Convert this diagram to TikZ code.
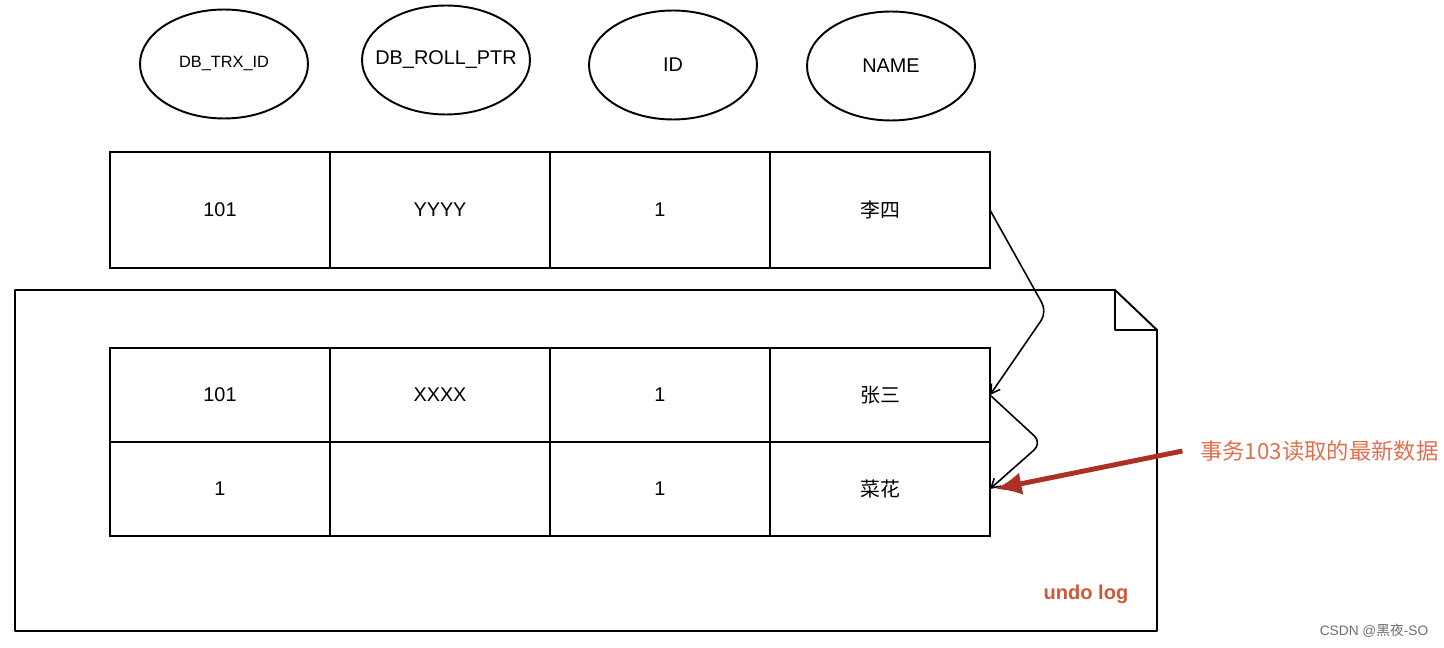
\documentclass[tikz,border=0pt]{standalone}
\usepackage{fontspec}
\setmainfont{Liberation Sans}
\newfontfamily\cjk{Noto Sans CJK SC}
\usetikzlibrary{shapes.geometric,arrows.meta}
\definecolor{redarrow}{RGB}{172,48,38}
\definecolor{notec}{RGB}{222,112,80}
\definecolor{undoc}{RGB}{205,88,58}
\definecolor{wm}{RGB}{110,110,110}
\tikzset{
  field/.style={ellipse,draw,line width=1.1pt,minimum width=3.36cm,minimum height=2.18cm,inner sep=0pt},
  fieldtext/.style={inner sep=0pt,font=\fontsize{11.3}{13}\selectfont},
  cell/.style={rectangle,draw,line width=1.1pt,minimum width=4.4cm,inner sep=0pt,outer sep=0pt,font=\fontsize{11.3}{13}\selectfont},
  toprow/.style={cell,minimum height=2.32cm},
  botrow/.style={cell,minimum height=1.88cm},
  link/.style={line width=0.9pt,rounded corners=6pt,-{Straight Barb[length=5pt,width=6pt]}},
}
\begin{document}
\begin{tikzpicture}[x=0.02cm,y=-0.02cm]
\useasboundingbox (0,0) rectangle (1444,648);
% ellipses
\node[field] (e1) at (224,64) {};
\node[fieldtext,font=\fontsize{9.3}{11}\selectfont] (e1t) at (e1.center) {DB\_TRX\_ID};
\node[field] (e2) at (446,60) {};
\node[fieldtext] (e2t) at (e2.center) {DB\_ROLL\_PTR};
\node[field] (e3) at (673,65) {};
\node[fieldtext] (e3t) at (e3.center) {ID};
\node[field] (e4) at (891,66) {};
\node[fieldtext] (e4t) at (e4.center) {NAME};
% top row
\node[toprow] (t0) at (220,210) {101};
\node[toprow] (t1) at (440,210) {YYYY};
\node[toprow] (t2) at (660,210) {1};
\node[toprow] (t3) at (880,210) {\cjk 李四};
% undo log document
\coordinate (dA) at (15,290);
\coordinate (dB) at (1115,290);
\coordinate (dC) at (1157,330);
\coordinate (dD) at (1157,631);
\coordinate (dE) at (15,631);
\draw[line width=1.1pt,line join=round] (dA) -- (dB) -- (dC) -- (dD) -- (dE) -- cycle;
\draw[line width=1.1pt,line join=round] (dB) -- (dB|-dC) -- (dC);
% bottom table
\node[botrow] (a0) at (220,395) {101};
\node[botrow] (a1) at (440,395) {XXXX};
\node[botrow] (a2) at (660,395) {1};
\node[botrow] (a3) at (880,395) {\cjk 张三};
\node[botrow] (b0) at (220,489) {1};
\node[botrow] (b1) at (440,489) {};
\node[botrow] (b2) at (660,489) {1};
\node[botrow] (b3) at (880,489) {\cjk 菜花};
% connectors
\draw[link] (t3.east) -- (1047,312) -- (a3.east);
\draw[link] (a3.east) -- (1042,443) -- (b3.east);
% note
\node[anchor=west,text=notec,inner sep=0pt,font=\cjk\fontsize{12.7}{14}\selectfont] (note) at (1200,451) {事务103读取的最新数据};
\draw[redarrow,line width=2.8pt,-{Latex[length=15pt,width=13pt]}] ([xshift=-10pt]note.west) -- ([xshift=3pt]b3.east);
\node[text=undoc,font=\bfseries\fontsize{11.4}{13}\selectfont] (undo) at (1086,594) {undo log};
\node[text=wm,font=\fontsize{7.8}{9}\selectfont] (wmk) at (1374,631) {CSDN @{\cjk 黑夜}-SO};
\end{tikzpicture}
\end{document}
